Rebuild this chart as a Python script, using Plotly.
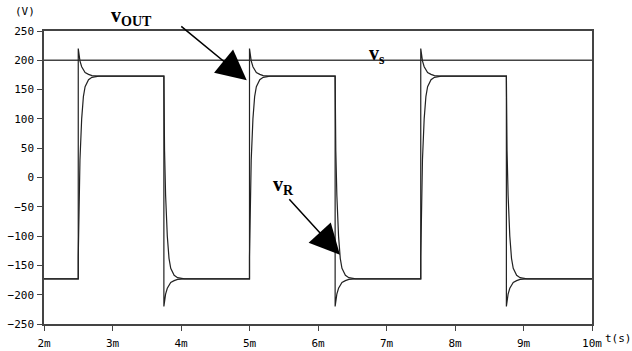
import plotly.graph_objects as go

# ---- data (time in ms, voltage in V) ----
edge_times = [2.5, 3.75, 5.0, 6.25, 7.5, 8.75]     # switching instants
edge_signs = [1, -1, 1, -1, 1, -1]                  # +1 rising, -1 falling
v_level = 173                                        # steady level
vs_level = 200                                       # source line
# transient read after a rising edge (mirror for falling)
dt_after = [0, 0.01, 0.025, 0.05, 0.075, 0.1, 0.15, 0.2, 0.3]
vout_rise = [220, 210, 199, 189, 183, 179, 176, 174, 173]
vr_rise = [-135, -45, 30, 100, 138, 155, 167, 171, 173]
t_start, t_end = 2.0, 10.0

x_ticks = [2, 3, 4, 5, 6, 7, 8, 9, 10]
x_ticktext = ["2m", "3m", "4m", "5m", "6m", "7m", "8m", "9m", "10m"]
y_ticks = [-250, -200, -150, -100, -50, 0, 50, 100, 150, 200, 250]


def build(trans):
    xs, ys = [t_start], [-edge_signs[0] * v_level]
    for te, s in zip(edge_times, edge_signs):
        xs.append(te); ys.append(-s * v_level)
        for d, v in zip(dt_after, trans):
            xs.append(te + d); ys.append(s * v)
    xs.append(t_end); ys.append(edge_signs[-1] * v_level)
    return xs, ys


vout_x, vout_y = build(vout_rise)
vr_x, vr_y = build(vr_rise)

fig = go.Figure()
fig.add_trace(go.Scatter(x=[t_start, t_end], y=[vs_level, vs_level], mode="lines",
                         line=dict(color="#444", width=1.5), hoverinfo="skip"))
fig.add_trace(go.Scatter(x=vr_x, y=vr_y, mode="lines",
                         line=dict(color="#222", width=1.2), hoverinfo="skip"))
fig.add_trace(go.Scatter(x=vout_x, y=vout_y, mode="lines",
                         line=dict(color="#222", width=1.2), hoverinfo="skip"))

tickfont = dict(family="DejaVu Sans Mono", size=11, color="black")

fig.update_layout(
    width=632, height=351,
    margin=dict(l=44, r=40, t=31, b=27, autoexpand=False),
    paper_bgcolor="white", plot_bgcolor="white",
    showlegend=False,
    xaxis=dict(range=[t_start, t_end], tickvals=x_ticks, ticktext=x_ticktext,
               showgrid=False, zeroline=False, showline=True, mirror=True,
               linecolor="#444", linewidth=1.5, ticks="outside", ticklen=5,
               tickcolor="#444", tickfont=tickfont, ticklabelstandoff=3,
               automargin=False),
    yaxis=dict(range=[-250, 250], tickvals=y_ticks,
               showgrid=False, zeroline=False, showline=True, mirror=True,
               linecolor="#444", linewidth=1.5, ticks="outside", ticklen=5,
               tickcolor="#444", tickfont=tickfont, ticklabelstandoff=1,
               automargin=False),
)

serif = dict(family="Liberation Serif", size=20, color="black")
fig.add_annotation(xref="paper", yref="paper", x=-0.035, y=1.065, text="(V)",
                   showarrow=False, font=tickfont, xanchor="center", yanchor="middle")
fig.add_annotation(xref="paper", yref="paper", x=1.048, y=-0.048, text="t(s)",
                   showarrow=False, font=tickfont, xanchor="center", yanchor="middle")
# labels
fig.add_annotation(xref="paper", yref="paper", x=0.159, y=1.05,
                   xanchor="center", yanchor="middle",
                   text="<b>v<sub>OUT</sub></b>", showarrow=False, font=serif)
fig.add_annotation(x=6.86, y=210, text="<b>v<sub>s</sub></b>", showarrow=False, font=serif)
fig.add_annotation(x=5.49, y=-13, text="<b>v<sub>R</sub></b>", showarrow=False, font=serif)
# arrows
fig.add_annotation(x=4.96, y=166, ax=-67, ay=-55, text="", showarrow=True,
                   arrowhead=2, arrowsize=4, arrowwidth=1.5, arrowcolor="black")
fig.add_annotation(x=6.32, y=-132, ax=-52, ay=-57, text="", showarrow=True,
                   arrowhead=2, arrowsize=4, arrowwidth=1.5, arrowcolor="black")

fig.write_html("out.html")
